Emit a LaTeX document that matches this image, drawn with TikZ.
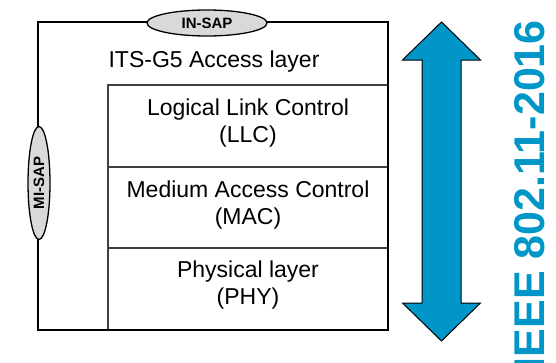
\documentclass[tikz,border=0pt]{standalone}
\usepackage{fontspec}
\setmainfont{Liberation Sans}
\usetikzlibrary{shapes.geometric}
\definecolor{ieeeblue}{RGB}{0,150,200}
\definecolor{sapgray}{RGB}{217,217,217}

\begin{document}
\begin{tikzpicture}[x=1pt,y=-1pt,
  layertext/.style={font=\fontsize{23}{27}\selectfont, align=center, inner sep=0pt},
  sap/.style={ellipse, draw=black, line width=1.3pt, fill=sapgray, inner sep=0pt,
              font=\fontsize{15}{18}\selectfont\bfseries},
  frame/.style={line width=2pt, black},
  divider/.style={line width=1.4pt, black!75},
  bigarrow/.style={fill=ieeeblue, draw=black, line width=1pt, line join=miter},
]
\useasboundingbox (0,0) rectangle (556,362);
\fill[white] (0,0) rectangle (556,362);

% sub-layer stack
\draw[divider] (108,330) -- (108,85) -- (388,85);
\draw[divider] (108,167) -- (388,167);
\draw[divider] (108,248) -- (388,248);

% access layer frame
\draw[frame] (38,22) rectangle (388,330);

% layer labels
\node[layertext, anchor=base] (access) at (214,67) {ITS-G5 Access layer};
\node[layertext] (llc) at (248,123.5) {Logical Link Control\\(LLC)};
\node[layertext] (mac) at (248,204.6) {Medium Access Control\\(MAC)};
\node[layertext] (phy) at (248,285.5) {Physical layer\\(PHY)};

% service access points
\node[sap, minimum width=120pt, minimum height=26pt] (insap) at (207,23) {IN-SAP};
\node[sap, minimum width=22pt, minimum height=113pt] (misap) at (39,183) {};
\node[rotate=90, inner sep=0pt, font=\fontsize{15}{18}\selectfont\bfseries] (misaplabel) at (misap.center) {MI-SAP};

% double-headed arrow
\draw[bigarrow] (441.5,22) -- (480.5,60) -- (461,60) -- (461,303) -- (480.5,303)
  -- (441.5,341) -- (402.5,303) -- (422,303) -- (422,60) -- (402.5,60) -- cycle;

% standard label
\node[rotate=90, anchor=base east, inner sep=0pt, text=ieeeblue,
      font=\fontsize{43}{50}\selectfont\bfseries] (std) at (544,20) {IEEE 802.11-2016};
\end{tikzpicture}
\end{document}
